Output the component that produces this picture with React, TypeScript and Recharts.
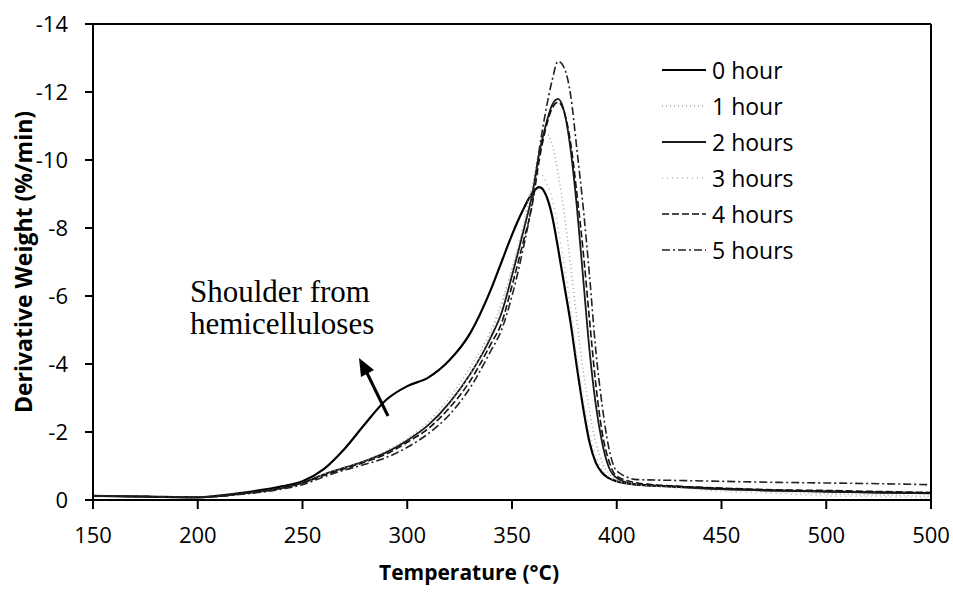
import React from 'react'
import { LineChart, Line, XAxis, YAxis, Legend } from 'recharts'

// temperature (°C) sample points
const temps = [150, 175, 200, 220, 240, 250, 260, 270, 280, 290, 300, 310, 320, 330, 340, 345, 350, 355, 360, 363, 366, 369, 372, 375, 378, 381, 384, 387, 390, 393, 396, 400, 410, 425, 450, 475, 500, 525, 550]

// derivative weight (%/min) per treatment time
const hour0 = [-0.12, -0.1, -0.08, -0.2, -0.4, -0.55, -0.9, -1.5, -2.25, -2.95, -3.35, -3.6, -4.1, -4.9, -6.2, -7.0, -7.8, -8.5, -9.05, -9.2, -9.0, -8.4, -7.4, -6.3, -5.2, -3.9, -2.7, -1.7, -1.1, -0.8, -0.65, -0.55, -0.45, -0.4, -0.33, -0.28, -0.25, -0.22, -0.2]
const hour1 = [-0.12, -0.1, -0.08, -0.18, -0.35, -0.5, -0.75, -0.95, -1.15, -1.45, -1.8, -2.3, -3.0, -3.9, -5.0, -5.8, -6.8, -7.9, -9.3, -10.3, -10.8, -10.5, -9.6, -8.4, -6.9, -5.3, -3.8, -2.6, -1.7, -1.1, -0.8, -0.6, -0.45, -0.38, -0.3, -0.25, -0.18, -0.15, -0.1]
const hour2 = [-0.12, -0.1, -0.08, -0.18, -0.35, -0.5, -0.75, -0.95, -1.15, -1.4, -1.75, -2.2, -2.85, -3.7, -4.8, -5.5, -6.6, -7.8, -9.1, -10.2, -11.0, -11.6, -11.8, -11.4, -10.3, -8.6, -6.5, -4.4, -2.8, -1.7, -1.0, -0.65, -0.45, -0.4, -0.32, -0.28, -0.25, -0.22, -0.2]
const hour3 = [-0.12, -0.1, -0.08, -0.18, -0.35, -0.5, -0.75, -0.95, -1.15, -1.35, -1.65, -2.1, -2.8, -3.7, -4.9, -5.7, -6.8, -8.0, -9.3, -9.6, -9.4, -8.9, -8.0, -6.9, -5.6, -4.2, -3.0, -2.0, -1.3, -0.9, -0.7, -0.55, -0.45, -0.38, -0.25, -0.2, -0.12, -0.1, -0.05]
const hour4 = [-0.12, -0.1, -0.08, -0.18, -0.35, -0.5, -0.72, -0.92, -1.12, -1.35, -1.7, -2.1, -2.7, -3.5, -4.6, -5.2, -6.3, -7.5, -8.8, -10.0, -10.9, -11.5, -11.7, -11.4, -10.5, -9.0, -7.3, -5.3, -3.4, -2.0, -1.2, -0.7, -0.5, -0.42, -0.35, -0.3, -0.28, -0.25, -0.22]
const hour5 = [-0.12, -0.1, -0.08, -0.16, -0.32, -0.45, -0.68, -0.88, -1.05, -1.25, -1.55, -1.95, -2.5, -3.3, -4.4, -5.0, -6.0, -7.3, -8.9, -10.3, -11.4, -12.3, -12.9, -12.7, -11.9, -10.3, -8.6, -6.6, -4.4, -2.8, -1.6, -0.85, -0.6, -0.58, -0.55, -0.52, -0.5, -0.48, -0.45]

const seriesNames = ['0 hour', '1 hour', '2 hours', '3 hours', '4 hours', '5 hours']

const xTicks = [150, 200, 250, 300, 350, 400, 450, 500, 550]
const xTickLabels = ['150', '200', '250', '300', '350', '400', '450', '500', '500']
const yTicks = [-14, -12, -10, -8, -6, -4, -2, 0]

const data = temps.map((t, i) => ({
  t,
  h0: hour0[i],
  h1: hour1[i],
  h2: hour2[i],
  h3: hour3[i],
  h4: hour4[i],
  h5: hour5[i],
}))

const styles: Record<string, { stroke: string; width: number; dash?: string }> = {
  h0: { stroke: '#000', width: 2.2 },
  h1: { stroke: '#a8a8a8', width: 1.6, dash: '1 3' },
  h2: { stroke: '#1a1a1a', width: 1.8 },
  h3: { stroke: '#b8b8b8', width: 1.6, dash: '1 4' },
  h4: { stroke: '#111', width: 1.6, dash: '7 3' },
  h5: { stroke: '#222', width: 1.6, dash: '8 3 2 3' },
}
const keys = ['h0', 'h1', 'h2', 'h3', 'h4', 'h5']

const font = '"Open Sans", sans-serif'

const LegendList = (props: any) => {
  const { payload } = props
  return (
    <div style={{ fontFamily: font, fontSize: 23, color: '#000' }}>
      {payload.map((p: any) => {
        const s = styles[p.dataKey]
        return (
          <div key={p.dataKey} style={{ display: 'flex', alignItems: 'center', height: 36 }}>
            <svg width={44} height={10}>
              <line x1={0} y1={5} x2={44} y2={5} stroke={s.stroke} strokeWidth={s.width} strokeDasharray={s.dash} />
            </svg>
            <span style={{ marginLeft: 6 }}>{p.value}</span>
          </div>
        )
      })}
    </div>
  )
}

export default function App() {
  return (
    <div style={{ position: 'absolute', left: 0, top: 0, width: 953, height: 596, background: '#fff' }}>
      <LineChart width={953} height={596} data={data} margin={{ top: 23, right: 21, bottom: 0, left: 0 }}>
        <XAxis
          xAxisId="b"
          dataKey="t"
          type="number"
          domain={[150, 550]}
          ticks={xTicks}
          tickFormatter={(v: number) => xTickLabels[xTicks.indexOf(v)]}
          height={96}
          tickSize={9}
          tickMargin={18}
          axisLine={{ stroke: '#000', strokeWidth: 2 }}
          tickLine={{ stroke: '#000', strokeWidth: 2 }}
          tick={{ fill: '#000', fontSize: 22, fontFamily: font }}
          label={{ value: 'Temperature (°C)', position: 'insideBottom', offset: 16, dx: -43, style: { fill: '#000', fontSize: 21, fontWeight: 700, fontFamily: font } }}
        />
        <XAxis xAxisId="top" orientation="top" type="number" domain={[150, 550]} height={1} tick={false} tickLine={false} axisLine={{ stroke: '#000', strokeWidth: 2 }} />
        <YAxis
          yAxisId="l"
          type="number"
          domain={[-14, 0]}
          ticks={yTicks}
          reversed
          width={93}
          tickSize={8}
          tickMargin={17}
          axisLine={{ stroke: '#000', strokeWidth: 2 }}
          tickLine={{ stroke: '#000', strokeWidth: 2 }}
          tick={{ fill: '#000', fontSize: 22, fontFamily: font }}
          label={{ value: 'Derivative Weight (%/min)', angle: -90, position: 'insideLeft', offset: 24, style: { textAnchor: 'middle', fill: '#000', fontSize: 23, fontWeight: 700, fontFamily: font } }}
        />
        <YAxis yAxisId="r" orientation="right" type="number" domain={[-14, 0]} reversed width={1} tick={false} tickLine={false} axisLine={{ stroke: '#000', strokeWidth: 2 }} />
        <Legend
          layout="horizontal"
          verticalAlign="middle"
          align="center"
          content={LegendList}
          wrapperStyle={{ left: 662, top: 52, width: 200 }}
        />
        {keys.map((k, i) => (
          <Line
            key={k}
            xAxisId="b"
            yAxisId="l"
            type="monotone"
            dataKey={k}
            name={seriesNames[i]}
            stroke={styles[k].stroke}
            strokeWidth={styles[k].width}
            strokeDasharray={styles[k].dash}
            dot={false}
            activeDot={false}
            isAnimationActive={false}
          />
        ))}
      </LineChart>
      <div
        style={{
          position: 'absolute',
          left: 190,
          top: 276,
          fontFamily: '"Liberation Serif", serif',
          fontSize: 31,
          lineHeight: '32px',
          color: '#000',
          pointerEvents: 'none',
          whiteSpace: 'nowrap',
        }}
      >
        Shoulder from
        <br />
        hemicelluloses
      </div>
      <svg width={953} height={596} style={{ position: 'absolute', left: 0, top: 0, pointerEvents: 'none' }}>
        <line x1={388} y1={416} x2={367} y2={373} stroke="#000" strokeWidth={3} />
        <polygon points="359,358 374,370 361,377" fill="#000" />
      </svg>
    </div>
  )
}
